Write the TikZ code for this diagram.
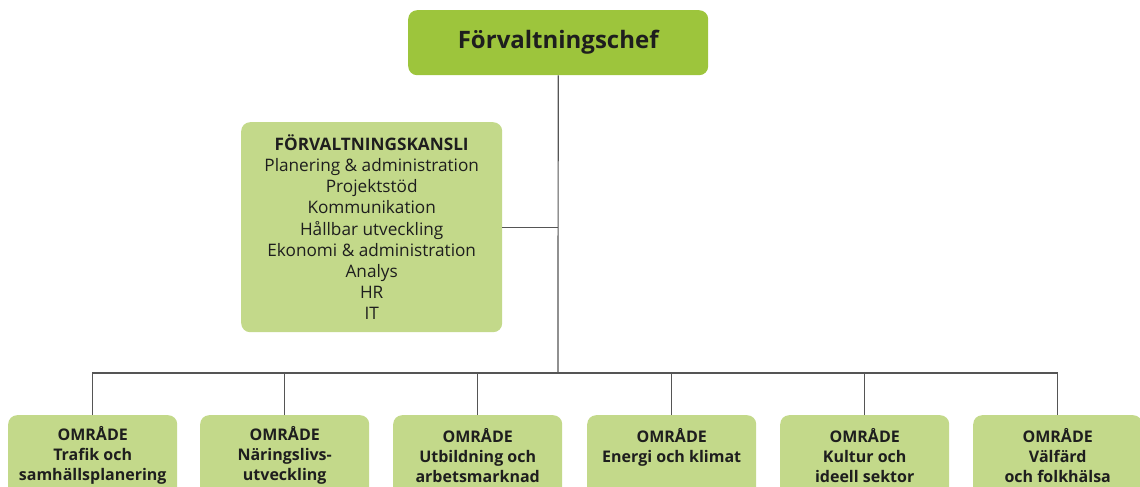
\documentclass[tikz,border=0pt]{standalone}
\usepackage{fontspec}
\setmainfont{Open Sans}
\definecolor{chefgreen}{HTML}{9DC53C}
\definecolor{boxgreen}{HTML}{C3D98A}
\definecolor{linegray}{HTML}{555555}
\definecolor{txt}{HTML}{1E1E1E}
\begin{document}
\begin{tikzpicture}[x=1pt,y=-1pt,
  chefbox/.style={draw=none,fill=chefgreen,rounded corners=9pt,minimum width=300pt,minimum height=65pt,anchor=north west,inner sep=0pt,text=txt,font=\fontsize{24}{30}\selectfont\bfseries},
  kanslibox/.style={draw=none,fill=boxgreen,rounded corners=9pt,minimum width=261pt,minimum height=210pt,anchor=north west,inner sep=0pt,align=center,text=txt,font=\fontsize{17.2}{21.1}\selectfont},
  areabox/.style={draw=none,fill=boxgreen,rounded corners=9pt,minimum width=169pt,minimum height=81pt,anchor=north west,inner sep=0pt,align=center,text=txt,font=\fontsize{16}{20}\selectfont\bfseries},
  conn/.style={draw=linegray,line width=1.2pt}]
\useasboundingbox (0,0) rectangle (1140,487);
\clip (0,0) rectangle (1140,487);
\node[chefbox] (chef) at (408,10) {Förvaltningschef};
\node[kanslibox] (kansli) at (241,122) {\textbf{FÖRVALTNINGSKANSLI}\\Planering \& administration\\Projektstöd\\Kommunikation\\Hållbar utveckling\\Ekonomi \& administration\\Analys\\HR\\IT};
\node[areabox] (a1) at (8,415) {OMRÅDE\\Trafik och\\samhällsplanering};
\node[areabox] (a2) at (200,415) {OMRÅDE\\Näringslivs-\\utveckling};
\node[areabox] (a3) at (393,415) {OMRÅDE\\Utbildning och\\arbetsmarknad};
\node[areabox] (a4) at (587,415) {OMRÅDE\\Energi och klimat\\\mbox{}};
\node[areabox] (a5) at (780,415) {OMRÅDE\\Kultur och\\ideell sektor};
\node[areabox] (a6) at (973,415) {OMRÅDE\\Välfärd\\och folkhälsa};
\coordinate (bus) at (558,373);
\draw[conn] (chef.south) -- (bus);
\draw[conn] (kansli.east) -- (kansli.east -| chef.south);
\draw[conn] (a1.north) -- (a1.north |- bus) -- (a6.north |- bus) -- (a6.north);
\foreach \n in {a2,a3,a4,a5}{\draw[conn] (\n.north) -- (\n.north |- bus);}
\end{tikzpicture}
\end{document}
